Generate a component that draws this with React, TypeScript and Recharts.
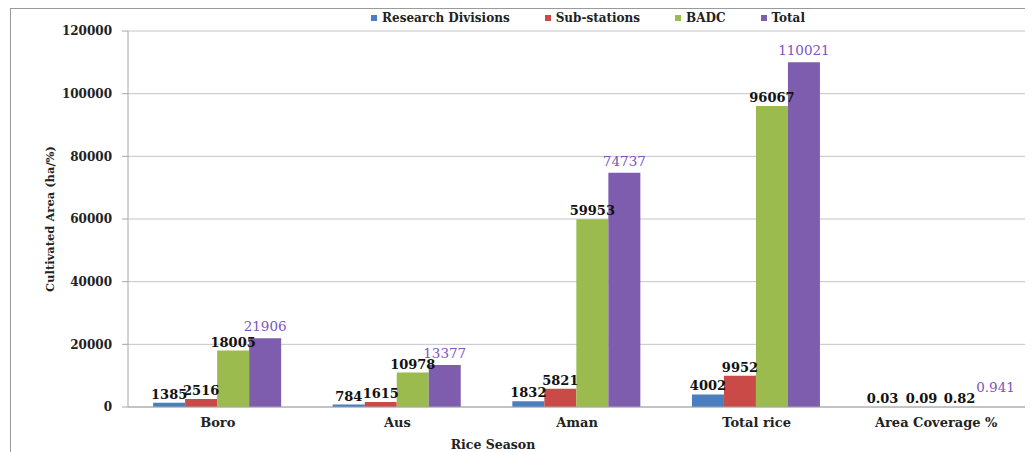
import React from "react";
import { BarChart, Bar, XAxis, YAxis, CartesianGrid, Legend, LabelList, Label } from "recharts";

// Cultivated area by rice season (ha), plus area coverage (%)
const seasons = ["Boro", "Aus", "Aman", "Total rice", "Area Coverage %"];
const researchDivisions = [1385, 784, 1832, 4002, 0.03];
const subStations = [2516, 1615, 5821, 9952, 0.09];
const badc = [18005, 10978, 59953, 96067, 0.82];
const total = [21906, 13377, 74737, 110021, 0.941];
const yTicks = [0, 20000, 40000, 60000, 80000, 100000, 120000];

const seriesInfo = [
  { key: "research", name: "Research Divisions", color: "#4A7EBF" },
  { key: "sub", name: "Sub-stations", color: "#C94A47" },
  { key: "badc", name: "BADC", color: "#9BBB4F" },
  { key: "total", name: "Total", color: "#7E5DAE" },
];

const data = seasons.map((season, i) => ({
  season,
  research: researchDivisions[i],
  sub: subStations[i],
  badc: badc[i],
  total: total[i],
}));

const FONT = "'DejaVu Serif', serif";

// The percentage labels sit on near-zero bars, so spread them apart a little
const coverageNudge: Record<string, { dx: number; dy: number }> = {
  research: { dx: -5, dy: 0 },
  sub: { dx: 2, dy: 0 },
  badc: { dx: 8, dy: 0 },
  total: { dx: 12, dy: -8 },
};

const LegendContent = () => (
  <div
    style={{
      display: "flex",
      justifyContent: "center",
      gap: 35,
      fontFamily: FONT,
      fontWeight: "bold",
      fontSize: 12,
      color: "#222",
    }}
  >
    {seriesInfo.map((s) => (
      <div key={s.key} style={{ display: "flex", alignItems: "center" }}>
        <span
          style={{
            display: "inline-block",
            width: 6,
            height: 6,
            background: s.color,
            marginRight: 5,
          }}
        />
        {s.name}
      </div>
    ))}
  </div>
);

const makeLabel = (key: string) => (props: any) => {
  const { x, y, width, value, index } = props;
  const isTotal = key === "total";
  const nudge = index === seasons.length - 1 ? coverageNudge[key] : { dx: 0, dy: 0 };
  return (
    <text
      x={x + width / 2 + nudge.dx}
      y={y - (isTotal ? 7 : 4) + nudge.dy}
      textAnchor="middle"
      fill={isTotal ? "#7B55C0" : "#111"}
      fontFamily={FONT}
      fontWeight={isTotal ? "normal" : "bold"}
      fontSize={isTotal ? 13.5 : 13}
    >
      {value}
    </text>
  );
};

export default function App() {
  return (
    <div style={{ position: "relative", width: 1025, height: 444, overflow: "hidden", background: "#fff" }}>
      <div
        style={{
          position: "absolute",
          left: 2,
          top: 0,
          width: 1040,
          height: 470,
          border: "1px solid #9a9a9a",
          boxSizing: "border-box",
        }}
      />
      <BarChart
        width={1025}
        height={444}
        data={data}
        margin={{ top: 9, right: 7, left: 0, bottom: 0 }}
        barCategoryGap="14%"
        barGap={0}
        style={{ position: "relative" }}
      >
        <CartesianGrid vertical={false} stroke="#c4c4c4" strokeWidth={1} />
        <XAxis
          dataKey="season"
          height={45}
          axisLine={{ stroke: "#a6a6a6" }}
          tickLine={false}
          tickSize={0}
          tickMargin={11}
          interval={0}
          tick={{ fill: "#222", fontFamily: FONT, fontWeight: "bold", fontSize: 13 }}
        >
          <Label
            content={({ viewBox }: any) => (
              <text
                x={viewBox.x + viewBox.width / 2 - 84}
                y={viewBox.y + viewBox.height - 3}
                textAnchor="middle"
                fill="#222"
                fontFamily={FONT}
                fontWeight="bold"
                fontSize={12.5}
              >
                Rice Season
              </text>
            )}
          />
        </XAxis>
        <YAxis
          width={120}
          domain={[0, 120000]}
          ticks={yTicks}
          interval={0}
          axisLine={{ stroke: "#a6a6a6" }}
          tickLine={{ stroke: "#a6a6a6" }}
          tickSize={6}
          tickMargin={10}
          tick={{ fill: "#222", fontFamily: FONT, fontWeight: "bold", fontSize: 12 }}
        >
          <Label
            content={({ viewBox }: any) => {
              const cx = 42;
              const cy = viewBox.y + viewBox.height / 2;
              return (
                <text
                  x={cx}
                  y={cy}
                  transform={`rotate(-90, ${cx}, ${cy})`}
                  textAnchor="middle"
                  dominantBaseline="central"
                  fill="#222"
                  fontFamily={FONT}
                  fontWeight="bold"
                  fontSize={11.5}
                >
                  Cultivated Area (ha/%)
                </text>
              );
            }}
          />
        </YAxis>
        <Legend verticalAlign="top" content={LegendContent} wrapperStyle={{ top: 3, left: 140, width: 880 }} />
        {seriesInfo.map((s) => (
          <Bar key={s.key} dataKey={s.key} name={s.name} fill={s.color} isAnimationActive={false}>
            <LabelList dataKey={s.key} content={makeLabel(s.key)} />
          </Bar>
        ))}
      </BarChart>
    </div>
  );
}
